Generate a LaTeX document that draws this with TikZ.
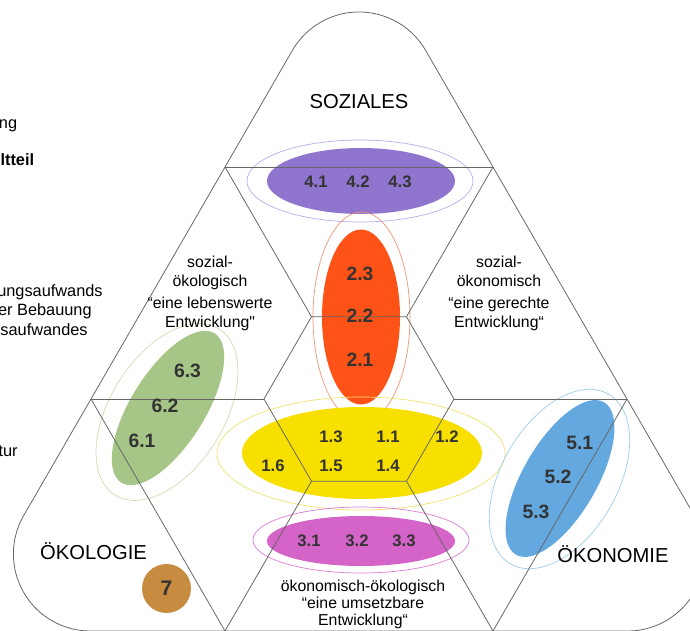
\documentclass[tikz,border=0pt]{standalone}
\usepackage{fontspec}
\setmainfont{Liberation Sans}[Ligatures=TeXOff]
\usetikzlibrary{calc}
\definecolor{numgray}{RGB}{51,51,51}
\definecolor{violett}{RGB}{143,117,205}
\definecolor{violettring}{RGB}{185,172,232}
\definecolor{orangerot}{RGB}{255,82,22}
\definecolor{orangering}{RGB}{238,150,120}
\definecolor{gelb}{RGB}{247,224,0}
\definecolor{gelbring}{RGB}{240,228,110}
\definecolor{magenta}{RGB}{212,100,200}
\definecolor{magentaring}{RGB}{218,125,212}
\definecolor{gruen}{RGB}{166,198,136}
\definecolor{gruenring}{RGB}{208,220,180}
\definecolor{blau}{RGB}{100,168,224}
\definecolor{blauring}{RGB}{160,205,232}
\definecolor{braun}{RGB}{200,140,65}
\begin{document}
\begin{tikzpicture}[x=0.02cm,y=0.02cm]
  \tikzstyle{grid}=[draw=black!60,line width=0.45pt]
  \tikzstyle{ring}=[line width=0.4pt]
  \tikzstyle{num}=[inner sep=0pt,text=numgray,font=\fontsize{9.5}{11}\selectfont\bfseries]
  \tikzstyle{bignum}=[num,font=\fontsize{11}{13}\selectfont\bfseries]
  \tikzstyle{pillar}=[inner sep=0pt,anchor=base,font=\fontsize{11.5}{14}\selectfont]
  \tikzstyle{desc}=[inner sep=0pt,align=center,anchor=north,font=\fontsize{9}{10.8}\selectfont]
  \tikzstyle{cut}=[inner sep=0pt,anchor=base east,font=\fontsize{9.3}{11}\selectfont]
  \path[fill=white,use as bounding box] (0,0) rectangle (690,630);
  \clip (0,0) rectangle (690,630);
  % grid points
  \coordinate (C)  at (359,231);
  \coordinate (P1) at (225,463);
  \coordinate (P2) at (493,463);
  \coordinate (Q1) at (91,231);
  \coordinate (Q2) at (627,231);
  \coordinate (R1) at (225,-1);
  \coordinate (R2) at (493,-1);
  \coordinate (Ct)  at (359,541);
  \coordinate (Cbl) at (90.4,76);
  \coordinate (Cbr) at (627.6,76);
  \foreach \k in {0,...,5}
    \coordinate (H\k) at ($(C)+(60*\k:95)$);
  % ellipses
  \fill[violett] (361,449) ellipse [x radius=94, y radius=33];
  \draw[ring,violettring] (360,449) ellipse [x radius=113, y radius=41];
  \fill[orangerot] (361,313) ellipse [x radius=39, y radius=87.5];
  \draw[ring,orangering] (361.5,313) ellipse [x radius=48.5, y radius=105];
  \fill[gelb] (362,177) ellipse [x radius=120, y radius=46];
  \draw[ring,gelbring] (361,176.5) ellipse [x radius=144, y radius=56.5];
  \fill[magenta] (361,89) ellipse [x radius=94, y radius=25];
  \draw[ring,magentaring] (361,90) ellipse [x radius=108, y radius=33];
  \fill[gruen,rotate around={58:(168,222)}] (168,222) ellipse [x radius=88, y radius=37];
  \draw[ring,gruenring,rotate around={58:(167,218)}] (167,218) ellipse [x radius=98, y radius=57];
  \fill[blau,rotate around={60:(560,151.5)}] (560,151.5) ellipse [x radius=88, y radius=37];
  \draw[ring,blauring,rotate around={60:(559.5,151)}] (559.5,151) ellipse [x radius=98, y radius=58];
  % outline and grid
  \draw[grid] ($(Ct)+(30:77)$) arc[start angle=30,end angle=150,radius=77]
    -- ($(Cbl)+(150:77)$) arc[start angle=150,end angle=270,radius=77]
    -- ($(Cbr)+(270:77)$) arc[start angle=270,end angle=390,radius=77] -- cycle;
  \foreach \a/\b in {P1/P2,P1/H2,P2/H1,Q1/H3,H0/Q2,H4/R1,H5/R2,Q1/R1,Q2/R2}
    \draw[grid] (\a) -- (\b);
  \draw[grid] (H0) -- (H1) -- (H2) -- (H3) -- (H4) -- (H5) -- cycle;
  % pillars
  \node[pillar] (soziales) at (359,521) {SOZIALES};
  \node[pillar] (oekologie) at (93.5,71) {ÖKOLOGIE};
  \node[pillar] (oekonomie) at (613,68) {ÖKONOMIE};
  \node[desc] (sozoekol) at (210,374.5) {sozial-\\ökologisch\\[1.7pt]“eine lebenswerte\\Entwicklung"};
  \node[desc] (sozoekon) at (499,374.5) {sozial-\\ökonomisch\\[1.7pt]“eine gerechte\\Entwicklung“};
  \node[desc,font=\fontsize{9}{9.6}\selectfont] (oekoek) at (363,50) {ökonomisch-ökologisch\\“eine umsetzbare\\Entwicklung“};
  % numbers
  \node[num] (n41) at (316,448) {4.1};
  \node[num] (n42) at (358,448) {4.2};
  \node[num] (n43) at (400,448) {4.3};
  \node[bignum] (n23) at (360,356) {2.3};
  \node[bignum] (n22) at (360,314) {2.2};
  \node[bignum] (n21) at (360,270) {2.1};
  \node[num] (n13) at (331,193) {1.3};
  \node[num] (n11) at (388,193) {1.1};
  \node[num] (n12) at (447,193) {1.2};
  \node[num] (n16) at (273,164) {1.6};
  \node[num] (n15) at (331,164) {1.5};
  \node[num] (n14) at (388,164) {1.4};
  \node[num] (n31) at (309,89) {3.1};
  \node[num] (n32) at (357,89) {3.2};
  \node[num] (n33) at (404,89) {3.3};
  \node[bignum] (n63) at (187.5,259) {6.3};
  \node[bignum] (n62) at (165,224) {6.2};
  \node[bignum] (n61) at (142,189.5) {6.1};
  \node[bignum] (n51) at (579.7,187.5) {5.1};
  \node[bignum] (n52) at (558,153) {5.2};
  \node[bignum] (n53) at (536,118.5) {5.3};
  \node[circle,fill=braun,minimum size=0.98cm,inner sep=0pt,text=numgray,
    font=\fontsize{12}{14}\selectfont\bfseries] (n7) at (166.5,41.5) {7};
  % text cut at the left edge
  \node[cut] (frag1) at (17.5,501) {ng};
  \node[cut,font=\fontsize{9.3}{11}\selectfont\bfseries] (frag2) at (34.5,464) {ltteil};
  \node[cut] (frag3) at (103,334) {ungsaufwands};
  \node[cut] (frag4) at (92,315) {er Bebauung};
  \node[cut] (frag5) at (88,295) {saufwandes};
  \node[cut] (frag6) at (18,174) {tur};
\end{tikzpicture}
\end{document}
